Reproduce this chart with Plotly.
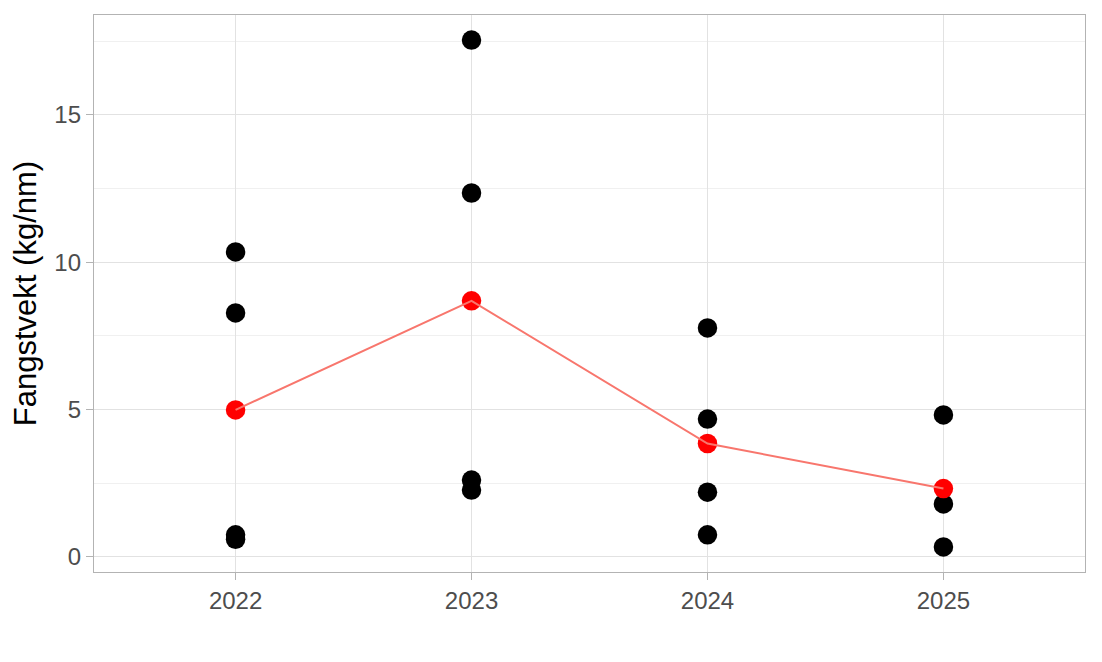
import plotly.graph_objects as go

years = [2022, 2023, 2024, 2025]
obs_year = [2022, 2022, 2022, 2022, 2023, 2023, 2023, 2023, 2024, 2024, 2024, 2024, 2025, 2025, 2025]
obs_value = [10.35, 8.28, 0.75, 0.6, 17.54, 12.35, 2.61, 2.27, 7.77, 4.68, 2.2, 0.75, 4.82, 1.8, 0.34]
mean_value = [4.99, 8.69, 3.85, 2.32]
y_ticks = [0, 5, 10, 15]

fig = go.Figure()
fig.add_trace(go.Scatter(x=obs_year, y=obs_value, mode="markers",
                         marker=dict(color="black", size=19.5, line=dict(width=0)),
                         showlegend=False))
fig.add_trace(go.Scatter(x=years, y=mean_value, mode="markers",
                         marker=dict(color="red", size=19.5, line=dict(width=0)),
                         showlegend=False))
fig.add_trace(go.Scatter(x=years, y=mean_value, mode="lines",
                         line=dict(color="#F8766D", width=2),
                         showlegend=False))

grid = "#E2E2E2"
fig.update_layout(
    width=1102, height=662,
    margin=dict(l=86, r=25, t=7, b=98),
    plot_bgcolor="white", paper_bgcolor="white",
    font=dict(family="Liberation Sans, Arial, sans-serif", color="#4D4D4D", size=24),
    xaxis=dict(range=[2021.4, 2025.6], tickvals=years, ticktext=[str(y) for y in years],
               showgrid=True, gridcolor=grid, gridwidth=1.3, zeroline=False,
               showline=True, linecolor="#B3B3B3", linewidth=1.3, mirror=True,
               ticks="outside", ticklen=7, tickcolor="#B3B3B3", tickwidth=1.3,
               tickfont=dict(size=24, color="#4D4D4D")),
    yaxis=dict(range=[-0.51, 18.39], tickvals=y_ticks,
               showgrid=True, gridcolor=grid, gridwidth=1.3, zeroline=False,
               showline=True, linecolor="#B3B3B3", linewidth=1.3, mirror=True,
               ticks="outside", ticklen=7, tickcolor="#B3B3B3", tickwidth=1.3,
               tickfont=dict(size=24, color="#4D4D4D"),
               minor=dict(tickvals=[2.5, 7.5, 12.5, 17.5], showgrid=True,
                          gridcolor="#F0F0F0", gridwidth=1, ticks=""),
               title=dict(text="Fangstvekt (kg/nm)", font=dict(size=31, color="black"),
                          standoff=10)),
)
fig.update_xaxes(minor=dict(showgrid=False))
fig.write_html("out.html")
